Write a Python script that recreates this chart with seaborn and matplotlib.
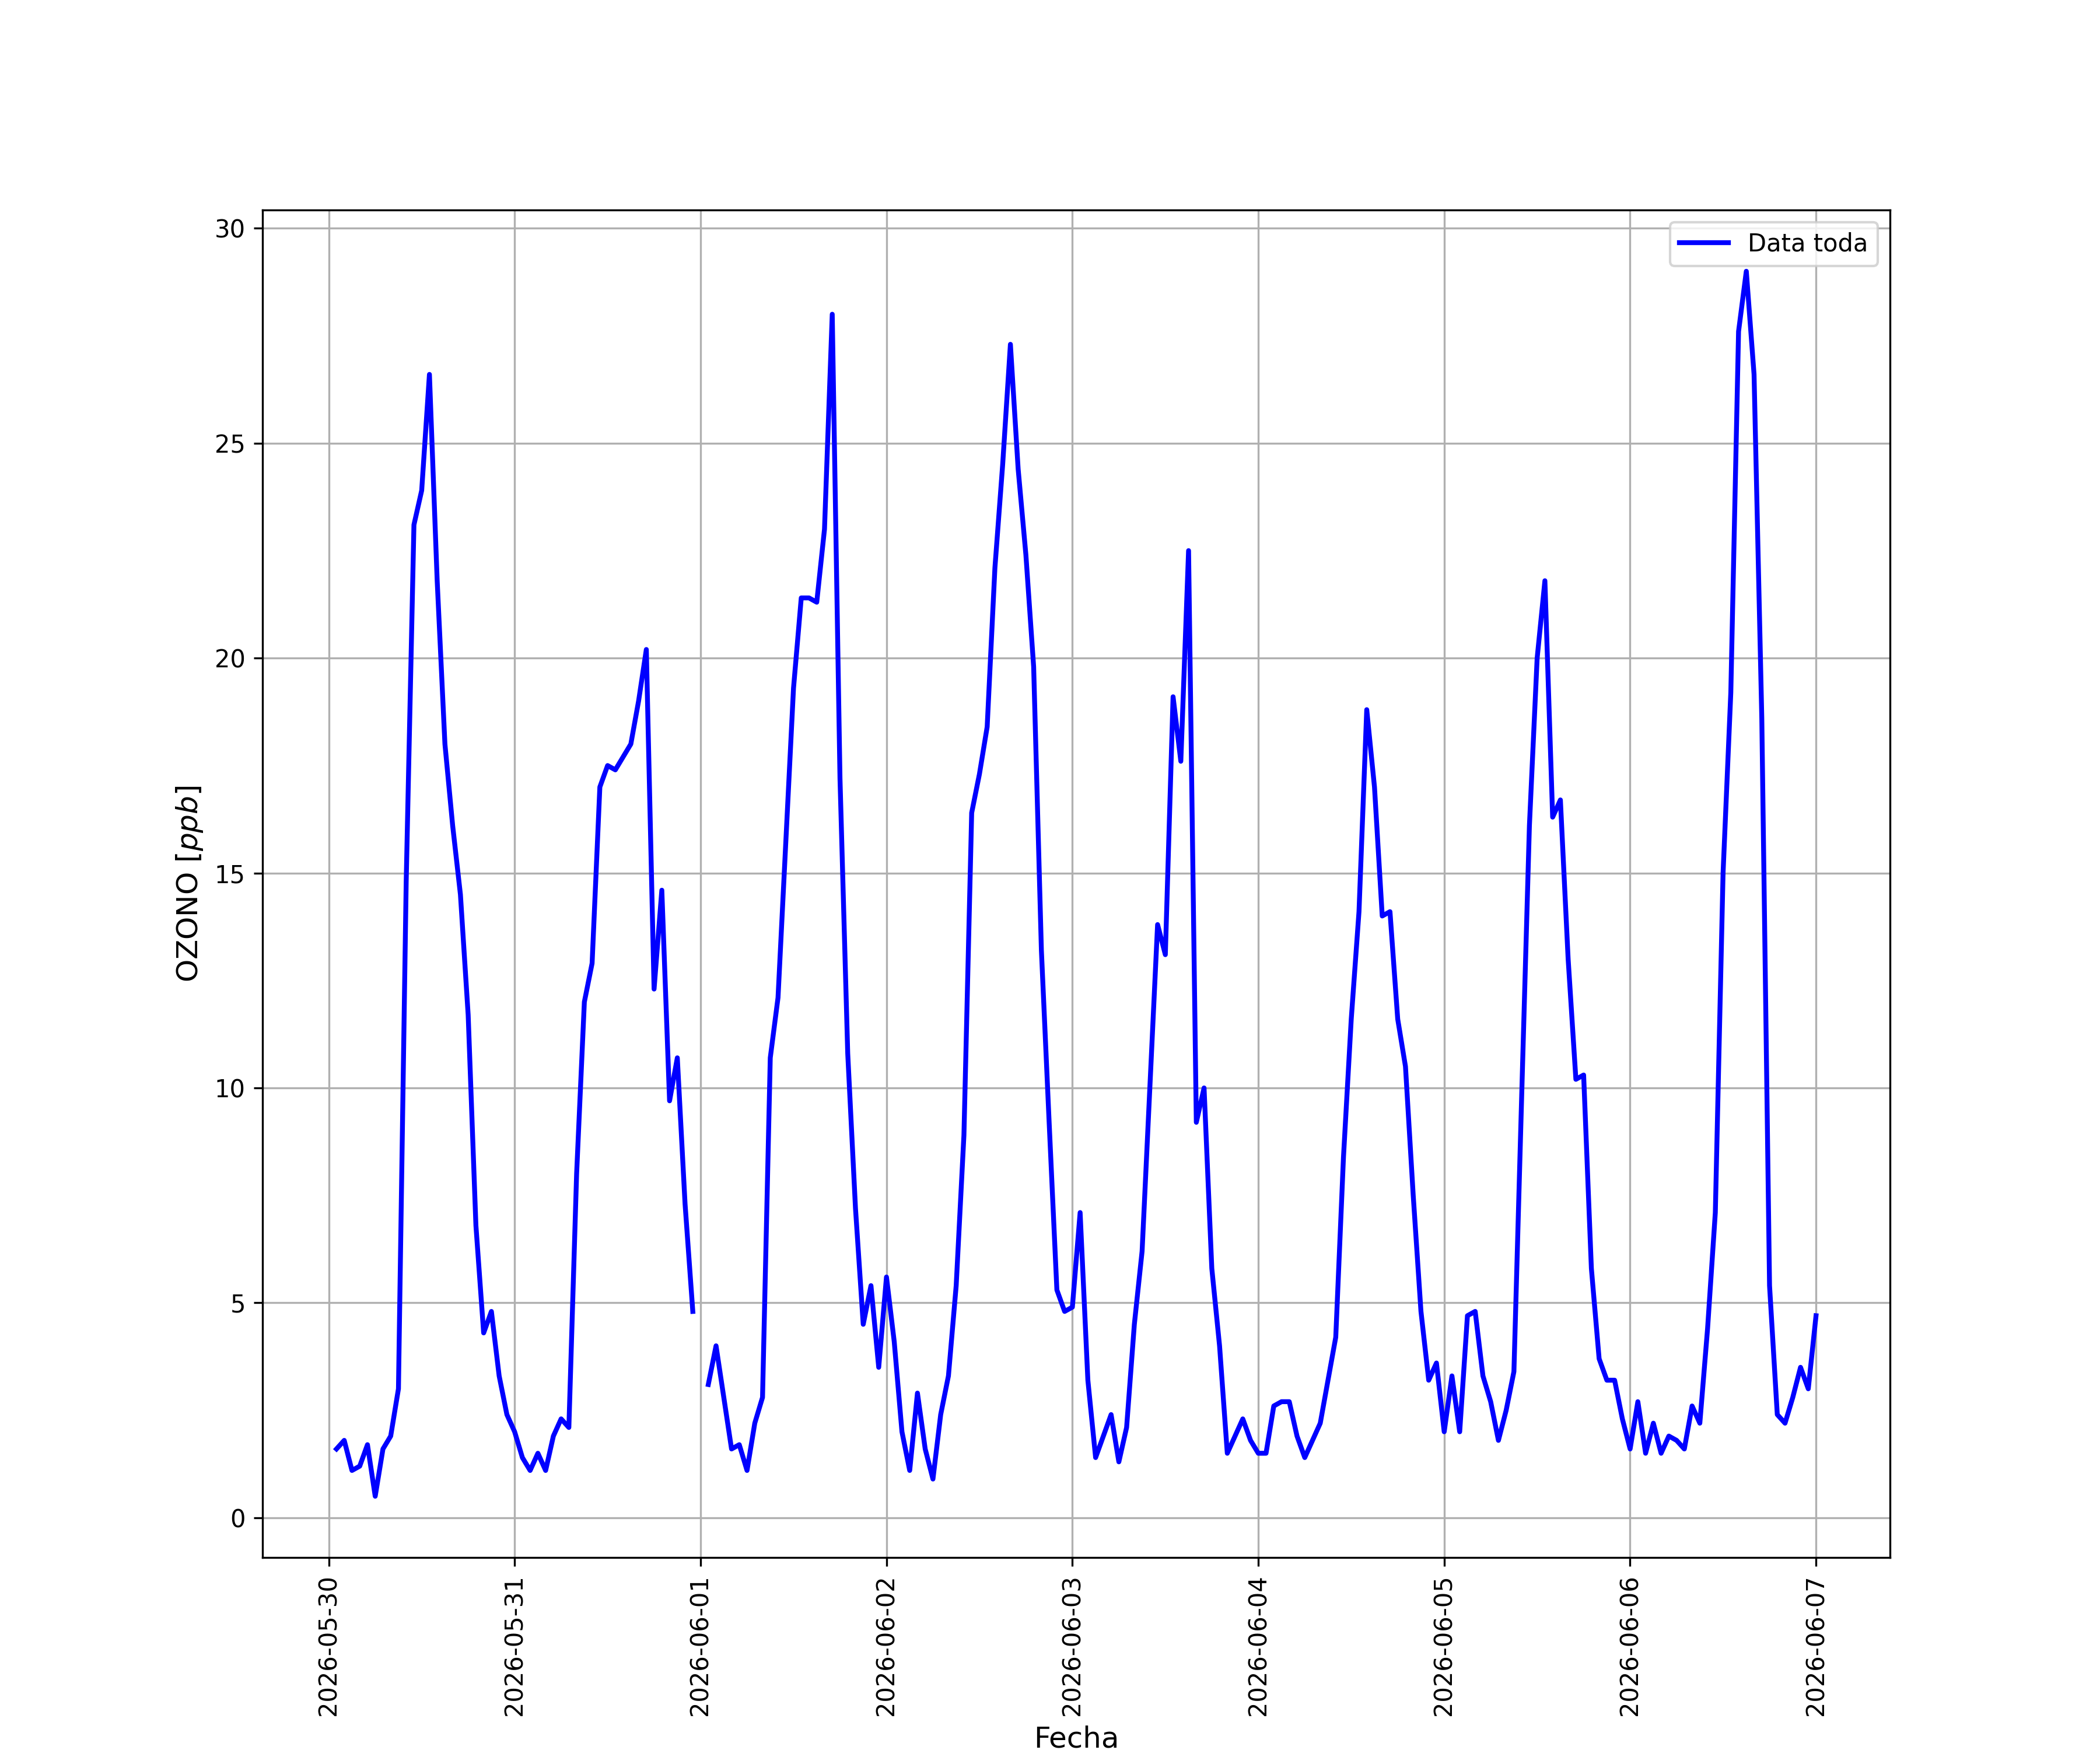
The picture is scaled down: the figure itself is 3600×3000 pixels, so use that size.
import numpy as np
import pandas as pd
import matplotlib
matplotlib.use("Agg")
import matplotlib.pyplot as plt
import matplotlib.dates as mdates
import seaborn as sns

# hourly ozone, 2026-05-30 01:00 -> 2026-06-07 00:00 (one missing hour at 06-01 00:00)
start = "2026-05-30 01:00"

dia_0530 = [1.6, 1.8, 1.1, 1.2, 1.7, 0.5, 1.6, 1.9, 3.0, 14.8, 23.1, 23.9,
            26.6, 21.8, 18.0, 16.1, 14.5, 11.7, 6.8, 4.3, 4.8, 3.3, 2.4, 2.0]
dia_0531 = [1.4, 1.1, 1.5, 1.1, 1.9, 2.3, 2.1, 8.0, 12.0, 12.9, 17.0, 17.5,
            17.4, 17.7, 18.0, 19.0, 20.2, 12.3, 14.6, 9.7, 10.7, 7.3, 4.8, np.nan]
dia_0601 = [3.1, 4.0, 2.8, 1.6, 1.7, 1.1, 2.2, 2.8, 10.7, 12.1, 15.7, 19.3,
            21.4, 21.4, 21.3, 23.0, 28.0, 17.2, 10.8, 7.2, 4.5, 5.4, 3.5, 5.6]
dia_0602 = [4.1, 2.0, 1.1, 2.9, 1.6, 0.9, 2.4, 3.3, 5.4, 8.9, 16.4, 17.3,
            18.4, 22.1, 24.5, 27.3, 24.4, 22.4, 19.8, 13.2, 9.2, 5.3, 4.8, 4.9]
dia_0603 = [7.1, 3.2, 1.4, 1.9, 2.4, 1.3, 2.1, 4.5, 6.2, 10.0, 13.8, 13.1,
            19.1, 17.6, 22.5, 9.2, 10.0, 5.8, 4.0, 1.5, 1.9, 2.3, 1.8, 1.5]
dia_0604 = [1.5, 2.6, 2.7, 2.7, 1.9, 1.4, 1.8, 2.2, 3.2, 4.2, 8.4, 11.6,
            14.1, 18.8, 17.0, 14.0, 14.1, 11.6, 10.5, 7.5, 4.8, 3.2, 3.6, 2.0]
dia_0605 = [3.3, 2.0, 4.7, 4.8, 3.3, 2.7, 1.8, 2.5, 3.4, 9.8, 16.1, 20.0,
            21.8, 16.3, 16.7, 13.0, 10.2, 10.3, 5.8, 3.7, 3.2, 3.2, 2.3, 1.6]
dia_0606 = [2.7, 1.5, 2.2, 1.5, 1.9, 1.8, 1.6, 2.6, 2.2, 4.4, 7.1, 15.0,
            19.2, 27.6, 29.0, 26.6, 18.6, 5.4, 2.4, 2.2, 2.8, 3.5, 3.0, 4.7]

ozono = (dia_0530 + dia_0531 + dia_0601 + dia_0602 +
         dia_0603 + dia_0604 + dia_0605 + dia_0606)
fechas = pd.date_range(start, periods=len(ozono), freq="h")

df = pd.DataFrame({"Fecha": fechas, "OZONO": ozono})
# split at missing values so the line keeps its gap
df["tramo"] = df["OZONO"].isna().cumsum()
df = df.dropna()

fig, ax = plt.subplots(figsize=(12, 10), dpi=300)

for i, (_, tramo) in enumerate(df.groupby("tramo")):
    sns.lineplot(data=tramo, x="Fecha", y="OZONO", ax=ax, color="blue",
                 linewidth=2, estimator=None, sort=True,
                 label="Data toda" if i == 0 else None, legend=False)

ax.xaxis.set_major_locator(mdates.DayLocator())
ax.xaxis.set_major_formatter(mdates.DateFormatter("%Y-%m-%d"))
plt.xticks(rotation=90)
ax.grid(True)
ax.set_xlabel("Fecha", fontsize=12)
ax.set_ylabel("OZONO [$ppb$]", fontsize=12)
ax.legend(loc="upper right")

plt.savefig("out.png", dpi=300)
plt.close()
